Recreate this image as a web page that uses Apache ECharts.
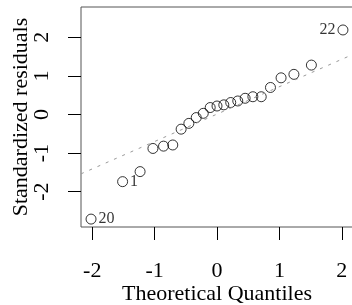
<!DOCTYPE html>
<html>
<head>
<meta charset="utf-8">
<script src="https://cdn.jsdelivr.net/npm/echarts@6/dist/echarts.min.js"></script>
<style>
  html, body { margin: 0; padding: 0; background: #fff; }
  #chart { width: 352px; height: 305px; }
</style>
</head>
<body>
<div id="chart"></div>
<script>
// theoretical quantiles (x) and standardized residuals (y), sorted
var quantiles = [-2.019, -1.513, -1.233, -1.027, -0.857, -0.709, -0.575, -0.451, -0.333, -0.220, -0.109, 0,
                 0.109, 0.220, 0.333, 0.451, 0.575, 0.709, 0.857, 1.027, 1.233, 1.513, 2.019];
var residuals = [-2.71, -1.74, -1.48, -0.88, -0.82, -0.79, -0.38, -0.23, -0.08, 0.03, 0.18, 0.22,
                 0.25, 0.31, 0.35, 0.42, 0.46, 0.46, 0.70, 0.95, 1.04, 1.28, 2.19];
// labelled observations: index in sorted arrays -> label
var labelIdx = [0, 1, 22];
var labelText = ['20', '1', '22'];
// reference line (qqline)
var lineIntercept = 0.01;
var lineSlope = 0.71;
var xTicks = [-2, -1, 0, 1, 2];
var yTicks = [-2, -1, 0, 1, 2];
var xRange = [-2.18, 2.18];
var yRange = [-2.915, 2.785];

(function() {
    var myChart = echarts.init(document.getElementById('chart'));
    var font = 'Liberation Serif';

    var pts = quantiles.map(function(q, i) {
        var item = { value: [q, residuals[i]] };
        var k = labelIdx.indexOf(i);
        if (k >= 0) {
            item.label = {
                show: true,
                formatter: labelText[k],
                position: q < 0 ? 'right' : 'left',
                distance: 2,
                color: '#000',
                fontFamily: font,
                fontSize: 16
            };
        }
        return item;
    });

    var lineData = xRange.map(function(x) {
        return [x, lineIntercept + lineSlope * x];
    });

    var option = {
        animation: false,
        grid: {
            left: 81,
            top: 7,
            width: 272,
            bottom: 78,
            outerBoundsMode: 'none',
            show: true,
            borderColor: '#555',
            borderWidth: 1
        },
        xAxis: {
            type: 'value',
            min: xRange[0],
            max: xRange[1],
            name: 'Theoretical Quantiles',
            nameLocation: 'middle',
            nameGap: 56,
            nameMoveOverlap: false,
            nameTextStyle: { fontFamily: font, fontSize: 22, color: '#000' },
            axisLine: { show: false, onZero: false },
            splitLine: { show: false },
            axisTick: { show: true, length: 13, customValues: xTicks, lineStyle: { color: '#000' } },
            axisLabel: { customValues: xTicks, margin: 33, fontFamily: font, fontSize: 22, color: '#000' }
        },
        yAxis: {
            type: 'value',
            min: yRange[0],
            max: yRange[1],
            name: 'Standardized residuals',
            nameLocation: 'middle',
            nameRotate: 90,
            nameGap: 49,
            nameMoveOverlap: false,
            nameTextStyle: { fontFamily: font, fontSize: 22, color: '#000' },
            axisLine: { show: false, onZero: false },
            splitLine: { show: false },
            axisTick: { show: true, length: 13, customValues: yTicks, lineStyle: { color: '#000' } },
            axisLabel: { customValues: yTicks, rotate: 90, margin: 28, fontFamily: font, fontSize: 22, color: '#000' }
        },
        series: [{
            type: 'line',
            data: lineData,
            symbol: 'none',
            silent: true,
            lineStyle: { color: '#999', width: 1, type: [3, 6] }
        }, {
            type: 'scatter',
            data: pts,
            symbol: 'circle',
            symbolSize: 10,
            itemStyle: { color: 'rgba(0,0,0,0)', borderColor: '#000', borderWidth: 1 }
        }]
    };

    myChart.setOption(option);
})();
</script>
</body>
</html>
